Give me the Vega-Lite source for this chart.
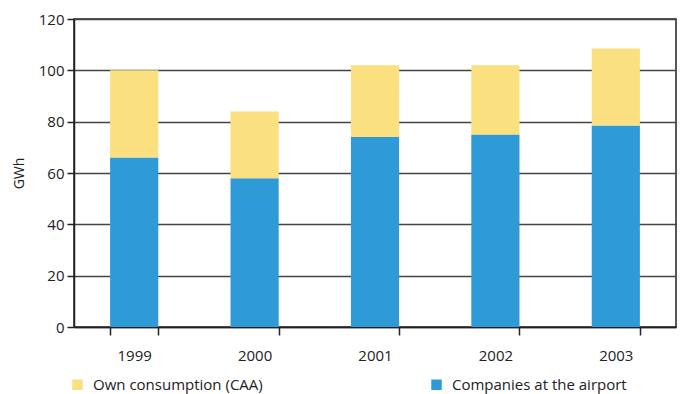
{
  "$schema": "https://vega.github.io/schema/vega-lite/v6.json",
  "width": 602,
  "height": 308,
  "autosize": {"type": "none"},
  "padding": {"left": 74, "top": 19, "right": 6, "bottom": 67},
  "config": {
    "font": "Open Sans",
    "view": {"stroke": "#222", "strokeWidth": 1.5},
    "axis": {"labelFont": "Open Sans", "titleFont": "Open Sans", "labelColor": "#222", "titleColor": "#222"}
  },
  "data": {
    "values": [
      {"year": "1999", "series": "Companies at the airport", "o": 1, "value": 66},
      {"year": "1999", "series": "Own consumption (CAA)", "o": 2, "value": 34},
      {"year": "2000", "series": "Companies at the airport", "o": 1, "value": 58},
      {"year": "2000", "series": "Own consumption (CAA)", "o": 2, "value": 26},
      {"year": "2001", "series": "Companies at the airport", "o": 1, "value": 74},
      {"year": "2001", "series": "Own consumption (CAA)", "o": 2, "value": 28},
      {"year": "2002", "series": "Companies at the airport", "o": 1, "value": 75},
      {"year": "2002", "series": "Own consumption (CAA)", "o": 2, "value": 27},
      {"year": "2003", "series": "Companies at the airport", "o": 1, "value": 78.5},
      {"year": "2003", "series": "Own consumption (CAA)", "o": 2, "value": 30}
    ]
  },
  "mark": {"type": "bar"},
  "encoding": {
    "x": {
      "field": "year", "type": "nominal",
      "scale": {"paddingInner": 0.6, "paddingOuter": 0.3},
      "axis": {
        "title": null, "labelAngle": 0, "labelFontSize": 15, "labelPadding": 13,
        "domainColor": "#222", "domainWidth": 1.5, "tickColor": "#222", "tickWidth": 1.5,
        "tickSize": 8, "tickBand": "extent", "ticks": true
      }
    },
    "y": {
      "field": "value", "type": "quantitative", "stack": "zero",
      "scale": {"domain": [0, 120]},
      "axis": {
        "title": "GWh", "titleFontSize": 14, "titleFontWeight": "normal", "titlePadding": 12,
        "values": [0, 20, 40, 60, 80, 100, 120], "labelFontSize": 15, "labelPadding": 3,
        "grid": true, "gridColor": "#444", "gridWidth": 1.5,
        "domainColor": "#222", "domainWidth": 1.5, "tickColor": "#222", "tickWidth": 1.5, "tickSize": 7
      }
    },
    "color": {
      "field": "series", "type": "nominal",
      "scale": {"domain": ["Own consumption (CAA)", "Companies at the airport"], "range": ["#FAE07E", "#2E9AD8"]},
      "legend": {
        "title": null, "orient": "none", "legendX": -4, "legendY": 358,
        "direction": "horizontal", "columns": 2, "columnPadding": 166,
        "symbolType": "square", "symbolSize": 110, "symbolStrokeWidth": 0,
        "labelFontSize": 15, "labelColor": "#222", "labelLimit": 300, "labelOffset": 8
      }
    },
    "order": {"field": "o", "type": "quantitative"}
  }
}
